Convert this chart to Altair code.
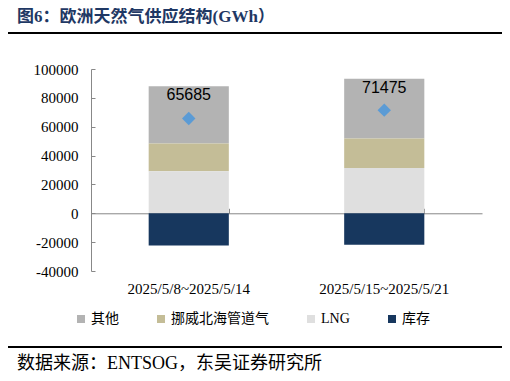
import altair as alt
import pandas as pd

cats = ["2025/5/8~2025/5/14", "2025/5/15~2025/5/21"]
series = ["其他", "挪威北海管道气", "LNG", "库存"]
colors = ["#B3B3B3", "#C4BD97", "#DFDFDF", "#17375E"]
other = [39685, 41400]
norway = [19200, 20600]
lng = [29200, 31300]
storage = [-22400, -21825]
net = [65685, 71475]
y_ticks = [-40000, -20000, 0, 20000, 40000, 60000, 80000, 100000]

title_text = "图6：欧洲天然气供应结构(GWh）"
source_text = "数据来源：ENTSOG，东吴证券研究所"

stack_order = {"LNG": 1, "挪威北海管道气": 2, "其他": 3, "库存": 4}
rows = []
for i, c in enumerate(cats):
    for s, vals in zip(series, [other, norway, lng, storage]):
        rows.append({"cat": c, "series": s, "value": vals[i], "ord": stack_order[s]})
bars_df = pd.DataFrame(rows)
tot_df = pd.DataFrame({
    "cat": cats,
    "net": net,
    "top": [o + n + l for o, n, l in zip(other, norway, lng)],
})

W, H = 391, 202
ZERO_OFF = H * 100000 / 140000
SERIF = "Liberation Serif, Noto Sans CJK SC"
AXC = "#888888"

xscale = alt.Scale(domain=cats, paddingInner=0.59, paddingOuter=0.295)
yscale = alt.Scale(domain=[-40000, 100000], nice=False, zero=False)

bars = alt.Chart(bars_df).mark_bar().encode(
    x=alt.X("cat:N", scale=xscale, sort=cats,
            axis=alt.Axis(orient="bottom", title=None, labelAngle=0, domain=False, ticks=False,
                          labelFont=SERIF, labelFontSize=15, labelColor="black", labelPadding=10)),
    y=alt.Y("value:Q", stack="zero", scale=yscale,
            axis=alt.Axis(orient="left", values=y_ticks, title=None, domain=False, ticks=False,
                          grid=False, labelFont=SERIF, labelFontSize=15, labelColor="black",
                          labelPadding=13, labelExpr="'' + datum.value")),
    color=alt.Color("series:N", scale=alt.Scale(domain=series, range=colors),
                    legend=alt.Legend(orient="none", legendX=-17, legendY=243, direction="horizontal",
                                      title=None, symbolType="square", symbolSize=64,
                                      symbolStrokeWidth=0, labelFont=SERIF, labelFontSize=14,
                                      labelColor="black", columnPadding=35, labelOffset=3)),
    order=alt.Order("ord:Q", sort="ascending"),
)

pts = alt.Chart(tot_df).mark_point(shape="diamond", filled=True, size=180, color="#5B9BD5", opacity=1).encode(
    x=alt.X("cat:N", scale=xscale, sort=cats,
            axis=alt.Axis(orient="top", offset=-ZERO_OFF, labels=False, title=None, domain=True,
                          domainColor=AXC, ticks=True, tickBand="extent", tickSize=5,
                          tickColor=AXC, grid=False)),
    y=alt.Y("net:Q", scale=yscale,
            axis=alt.Axis(orient="right", offset=-W, labels=False, title=None, domainColor=AXC,
                          tickColor=AXC, tickSize=4, values=y_ticks, grid=False)),
)

lbl = alt.Chart(tot_df).mark_text(font="Liberation Sans", fontSize=16, color="black",
                                  baseline="middle", dy=9).encode(
    x=alt.X("cat:N", scale=xscale, sort=cats, axis=None),
    y=alt.Y("top:Q", scale=yscale, axis=None),
    text=alt.Text("net:Q", format="d"),
)

deco_a = pd.DataFrame({"a": [0]})
deco_b = pd.DataFrame({"b": [1]})
title_mark = alt.Chart(deco_a).mark_text(
    text=title_text, align="left", baseline="middle", font=SERIF, fontSize=17,
    fontWeight="bold", color="#1F3864").encode(x=alt.value(-74), y=alt.value(-52))
rule_top = alt.Chart(deco_a).mark_rect(color="black").encode(
    x=alt.value(-83), x2=alt.value(411), y=alt.value(-37), y2=alt.value(-35))
rule_bot = alt.Chart(deco_b).mark_rect(color="black").encode(
    x=alt.value(-83), x2=alt.value(411), y=alt.value(277), y2=alt.value(279))
source_mark = alt.Chart(deco_b).mark_text(
    text=source_text, align="left", baseline="middle", font=SERIF, fontSize=18,
    color="black").encode(x=alt.value(-74), y=alt.value(295))

chart = alt.layer(bars, pts, lbl, title_mark, rule_top, rule_bot, source_mark).resolve_axis(
    x="independent", y="independent"
).properties(
    width=W, height=H,
    autosize=alt.AutoSizeParams(type="none"),
    padding={"left": 83, "top": 61, "right": 20, "bottom": 102},
    background="white",
).configure_view(stroke=None)

chart.save("out.html", embed_options={"renderer": "svg", "actions": False})
